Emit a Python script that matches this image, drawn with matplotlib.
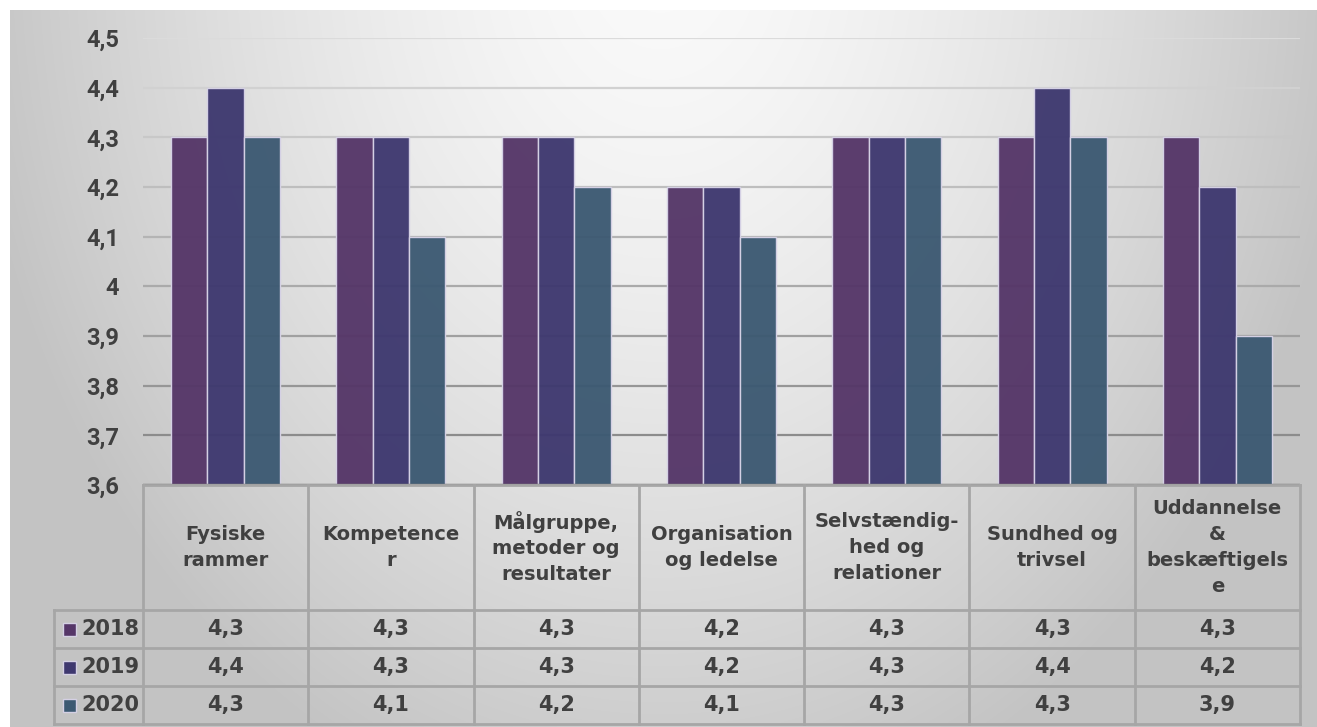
import numpy as np
import matplotlib
matplotlib.use("Agg")
import matplotlib.pyplot as plt
from matplotlib.patches import Rectangle
from matplotlib.font_manager import FontProperties

# data
categories = ["Fysiske\nrammer", "Kompetence\nr", "Målgruppe,\nmetoder og\nresultater",
              "Organisation\nog ledelse", "Selvstændig-\nhed og\nrelationer",
              "Sundhed og\ntrivsel", "Uddannelse\n&\nbeskæftigels\ne"]
years = ["2018", "2019", "2020"]
v2018 = [4.3, 4.3, 4.3, 4.2, 4.3, 4.3, 4.3]
v2019 = [4.4, 4.3, 4.3, 4.2, 4.3, 4.4, 4.2]
v2020 = [4.3, 4.1, 4.2, 4.1, 4.3, 4.3, 3.9]
yticks = [3.6, 3.7, 3.8, 3.9, 4.0, 4.1, 4.2, 4.3, 4.4, 4.5]

colors = ["#553668", "#3e386f", "#3c5972"]
text_col = "#404040"
W, H = 1317, 727

fig = plt.figure(figsize=(W / 100, H / 100), dpi=100)

# background gradient (light at top centre, grey towards the edges)
bg = fig.add_axes([0, 0, 1, 1])
yy, xx = np.mgrid[0:H, 0:W]
d = np.sqrt(((xx - 660) / 700.0) ** 2 + ((yy + 50) / 900.0) ** 2)
shade = (250 - 55 * np.clip(d, 0, 1) ** 1.5) / 255.0
img = np.dstack([shade, shade, shade])
img[:10, :, :] = 1.0
img[:, :10, :] = 1.0
bg.imshow(img, extent=(0, W, H, 0), aspect="auto", interpolation="bilinear")
bg.set_xlim(0, W)
bg.set_ylim(H, 0)
bg.axis("off")

# main bar chart
left, right, top, bottom = 143, 1300, 38, 485
ax = fig.add_axes([left / W, (H - bottom) / H, (right - left) / W, (bottom - top) / H])
ax.patch.set_alpha(0)
x = np.arange(len(categories))
bw = 0.22
series = [v2018, v2019, v2020]
for i, vals in enumerate(series):
    fc = matplotlib.colors.to_rgba(colors[i], 0.96)
    ax.bar(x + (i - 1) * bw, np.array(vals) - 3.6, bw, bottom=3.6, color=fc,
           edgecolor="#d4d0e4", linewidth=1.0, zorder=3)

# gridlines get darker towards the bottom
grid_cols = np.linspace(0.55, 0.86, len(yticks) - 1)
for t, c in zip(yticks[1:], grid_cols):
    ax.axhline(t, color=str(c), linewidth=1.6, zorder=1)
ax.axhline(3.6, color="#7f7f7f", linewidth=2.5, zorder=4)

ax.set_xlim(-0.5, len(categories) - 0.5)
ax.set_ylim(3.6, 4.5)
ax.set_yticks(yticks)
ax.set_yticklabels([f"{t:.1f}".replace(".", ",").replace("4,0", "4") for t in yticks])
tick_font = FontProperties(family="Roboto", weight="bold", size=17)
for lbl in ax.get_yticklabels():
    lbl.set_fontproperties(tick_font)
    lbl.set_color(text_col)
ax.tick_params(axis="y", length=0, pad=17)
ax.set_xticks([])
for s in ax.spines.values():
    s.set_visible(False)

# data table below the chart
t_top, t_bot = 485, 724
tab = fig.add_axes([left / W, (H - t_bot) / H, (right - left) / W, (t_bot - t_top) / H])
tab.patch.set_alpha(0)
tab.set_xlim(-0.5, len(categories) - 0.5)
tab.set_ylim(t_bot - t_top, 0)
tab.axis("off")
head_h, row_h = 125, 38
col_px = (right - left) / len(categories)
label_x0 = -0.5 - 89 / col_px
line_kw = dict(color="#a6a6a6", linewidth=2, clip_on=False)

# vertical lines
for k in range(len(categories) + 1):
    tab.plot([k - 0.5, k - 0.5], [0, head_h + 3 * row_h], **line_kw)
tab.plot([label_x0, label_x0], [head_h, head_h + 3 * row_h], **line_kw)
# horizontal lines
tab.plot([-0.5, len(categories) - 0.5], [0, 0], **line_kw)
for r in range(4):
    yv = head_h + r * row_h
    tab.plot([label_x0, len(categories) - 0.5], [yv, yv], **line_kw)

for k, cat in enumerate(categories):
    tab.text(k, head_h / 2, cat, ha="center", va="center", fontsize=14,
             fontweight="bold", color=text_col, linespacing=1.45)
for r, (yr, vals) in enumerate(zip(years, series)):
    yc = head_h + (r + 0.5) * row_h
    for k, v in enumerate(vals):
        tab.text(k, yc, f"{v:.1f}".replace(".", ","), ha="center", va="center",
                 fontsize=15, fontweight="bold", color=text_col)
    tab.add_patch(Rectangle((label_x0 + 9 / col_px, yc - 6.5), 13 / col_px, 13,
                            facecolor=colors[r], edgecolor="#d4d0e4", linewidth=1,
                            clip_on=False))
    tab.text(label_x0 + 27 / col_px, yc, yr, ha="left", va="center", fontsize=15,
             fontweight="bold", color=text_col)

fig.savefig("out.png", dpi=100)
